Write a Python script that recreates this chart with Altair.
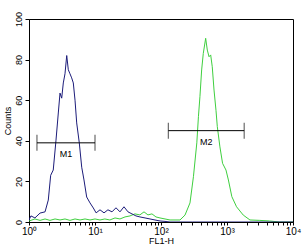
import altair as alt
import pandas as pd

# Blue (control) histogram: FL1-H value, counts
blue_fl1 = [1.0, 1.07, 1.23, 1.47, 1.75, 1.96, 2.13, 2.33, 2.56, 2.78, 2.95, 3.13, 3.31, 3.51,
            3.73, 3.94, 4.18, 4.43, 4.69, 4.98, 5.28, 5.78, 6.29, 6.81, 7.48, 8.40, 9.43,
            10.4, 11.9, 13.7, 15.7, 18.1, 20.8, 23.9, 27.5, 31.6, 36.3, 41.7, 47.9, 57.3,
            68.1, 81.1, 96.6, 115, 137, 300, 1000, 3000, 10000]
blue_cnt = [1, 3, 2, 4.4, 5, 10.8, 23, 25.6, 40, 53.7, 63.5, 61, 68.5, 73,
            82, 75, 73, 71, 68.5, 60, 48.8, 39, 27, 20.7, 12.3, 9.4, 6.9,
            4.5, 6, 4.5, 6, 5, 7, 5, 7.5, 5, 4, 3, 2.5, 2,
            1.5, 1, 0.5, 0.3, 0, 0, 0, 0, 0]

# Green (sample) histogram
green_fl1 = [1.0, 1.23, 1.47, 1.75, 2.08, 2.48, 2.95, 3.51, 4.18, 4.98, 5.93, 7.06, 8.40, 10,
             11.9, 14.1, 16.8, 20.1, 23.9, 28.5, 33.9, 40.3, 47.9, 55.3, 63.4, 73.0, 83.9,
             96.6, 115, 137, 163, 194, 231, 275, 310, 349, 369, 389, 413, 437, 475, 503,
             534, 566, 598, 636, 681, 713, 781, 857, 965, 1050, 1184, 1395, 1764, 2228,
             3138, 4430, 6250, 10000]
green_cnt = [0.5, 1.5, 0.8, 1.5, 0.8, 1.5, 1, 1.5, 0.8, 1.5, 1, 1.5, 1, 1.5,
             1, 1.5, 1, 2, 1.5, 2.5, 3, 4, 3.5, 5, 3.5, 4, 2.5,
             2, 1.5, 1, 1, 1, 3.4, 9.4, 22.3, 39, 51.9, 61.7, 74.9, 83, 90.5, 84.7,
             81.4, 82.3, 76.5, 65, 55, 47, 37, 28.9, 25.6, 20.7, 12.5, 7.5, 3.4, 1,
             0.8, 0.5, 0, 0]

# Markers
marker_names = ["M1", "M2"]
marker_start = [1.32, 129]
marker_end = [10, 1820]
marker_level = [39, 45]

x_ticks = [m * 10 ** e for e in range(4) for m in range(1, 10)] + [10000]
y_ticks = list(range(0, 101, 10))

blue_df = pd.DataFrame({"fl1": blue_fl1, "count": blue_cnt})
green_df = pd.DataFrame({"fl1": green_fl1, "count": green_cnt})
mk_df = pd.DataFrame({"name": marker_names, "start": marker_start,
                      "end": marker_end, "level": marker_level})
mk_ends = pd.DataFrame({"name": marker_names * 2,
                        "pos": marker_start + marker_end,
                        "level": marker_level * 2})

FONT = "Liberation Sans"

x_label_expr = ("datum.value == 1 ? '10⁰' : datum.value == 10 ? '10¹' : "
                "datum.value == 100 ? '10²' : datum.value == 1000 ? '10³' : "
                "datum.value == 10000 ? '10⁴' : ''")

xscale = alt.Scale(type="log", domain=[1, 10000], nice=False)
yscale = alt.Scale(domain=[0, 100], nice=False)

xaxis = alt.Axis(values=x_ticks, labelExpr=x_label_expr, title="FL1-H",
                 grid=False, tickSize=3, labelFontSize=10, labelFont=FONT,
                 titleFont=FONT, titleFontSize=9, titleFontWeight="normal",
                 titlePadding=0, labelPadding=1, domainColor="black",
                 tickColor="black", labelColor="black", titleColor="black",
                 labelFlush=False, labelOverlap=False)
yaxis = alt.Axis(values=y_ticks, labelExpr="datum.value % 20 == 0 ? datum.label : ''",
                 title="Counts", grid=False, tickSize=4, labelAngle=-90,
                 labelAlign="center", labelBaseline="bottom", labelPadding=2,
                 labelFontSize=9, labelFont=FONT, titleFont=FONT, titleFontSize=9,
                 titleFontWeight="normal", titlePadding=2, domainColor="black",
                 tickColor="black", labelColor="black", titleColor="black",
                 labelFlush=False, labelOverlap=False)

blue = alt.Chart(blue_df).mark_line(color="#1c1c7a", strokeWidth=1, clip=True).encode(
    x=alt.X("fl1:Q", scale=xscale, axis=xaxis),
    y=alt.Y("count:Q", scale=yscale, axis=yaxis),
    order="fl1:Q",
)
green = alt.Chart(green_df).mark_line(color="#3fcf3f", strokeWidth=1, clip=True).encode(
    x=alt.X("fl1:Q", scale=xscale),
    y=alt.Y("count:Q", scale=yscale),
    order="fl1:Q",
)

bars = alt.Chart(mk_df).mark_rule(color="black", strokeWidth=1).encode(
    x=alt.X("start:Q", scale=xscale),
    x2="end:Q",
    y=alt.Y("level:Q", scale=yscale),
)
ends = alt.Chart(mk_ends).mark_tick(color="black", orient="vertical", size=16,
                                    thickness=1).encode(
    x=alt.X("pos:Q", scale=xscale),
    y=alt.Y("level:Q", scale=yscale),
)
labels = alt.Chart(mk_df).transform_calculate(
    mid="sqrt(datum.start * datum.end)"
).mark_text(font=FONT, fontSize=9, color="black", dy=11).encode(
    x=alt.X("mid:Q", scale=xscale),
    y=alt.Y("level:Q", scale=yscale),
    text="name:N",
)

chart = alt.layer(green, blue, bars, ends, labels).properties(
    width=264, height=203,
    padding={"left": 29, "top": 19, "right": 9, "bottom": 29},
    autosize=alt.AutoSizeParams(type="none"),
    background="white",
).configure_view(stroke="black", strokeWidth=1)

chart.save("out.html", embed_options={"renderer": "svg", "actions": False})
